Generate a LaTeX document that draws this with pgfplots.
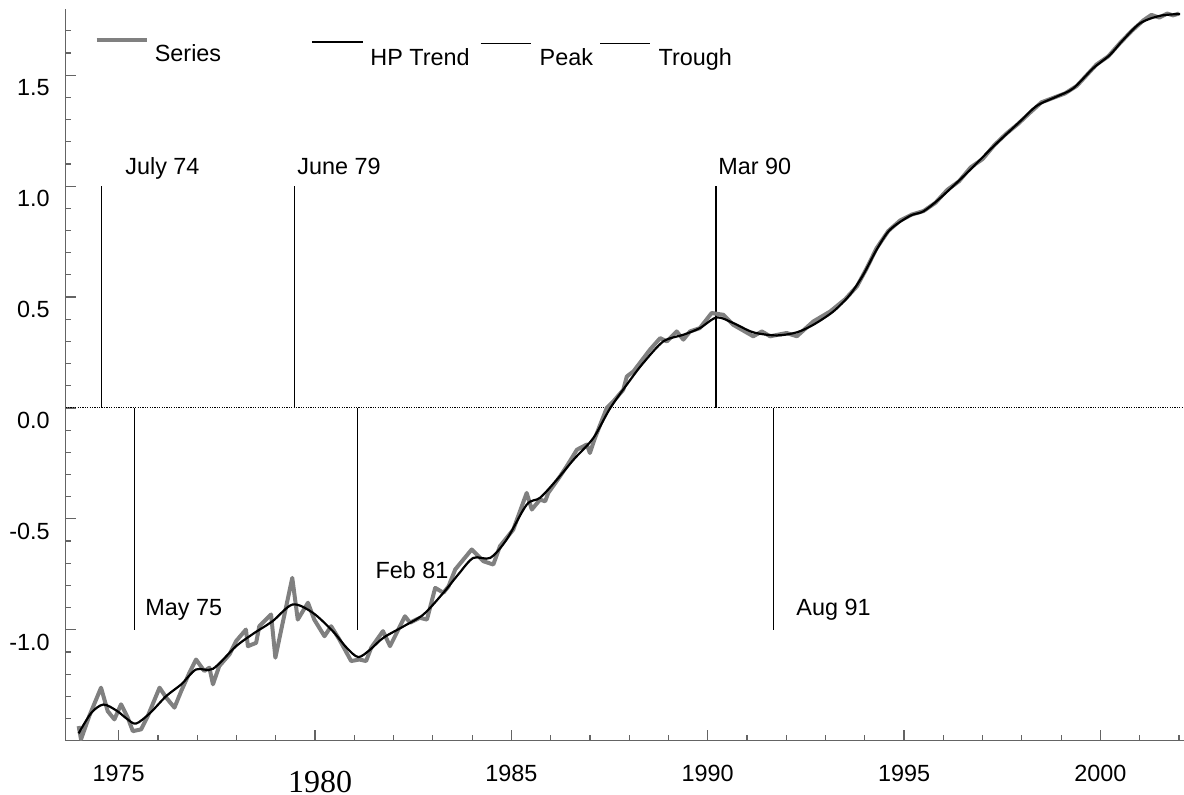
\documentclass[border=0pt]{standalone}
\usepackage{pgfplots}
\pgfplotsset{compat=1.18}
\usepackage{fontspec}
\setmainfont{Liberation Sans}
\newfontfamily\seriffont{Liberation Serif}
\definecolor{seriesgray}{RGB}{128,128,128}
\definecolor{axisgray}{RGB}{100,100,100}

\pgfplotstableread{
x y
1973.98 -1.434
1974.04 -1.494
1974.25 -1.389
1974.55 -1.261
1974.72 -1.367
1974.89 -1.404
1975.06 -1.336
1975.23 -1.396
1975.36 -1.457
1975.57 -1.449
1975.74 -1.389
1976.04 -1.261
1976.21 -1.306
1976.42 -1.351
1976.59 -1.277
1976.80 -1.194
1976.97 -1.134
1977.18 -1.186
1977.31 -1.171
1977.40 -1.246
1977.56 -1.164
1977.82 -1.111
1977.99 -1.051
1978.24 -0.999
1978.29 -1.074
1978.50 -1.059
1978.58 -0.984
1978.88 -0.931
1978.99 -1.126
1979.14 -0.999
1979.42 -0.766
1979.56 -0.954
1979.82 -0.878
1979.98 -0.954
1980.24 -1.029
1980.41 -0.984
1980.62 -1.044
1980.92 -1.141
1981.13 -1.134
1981.30 -1.141
1981.43 -1.081
1981.73 -1.006
1981.91 -1.074
1982.29 -0.939
1982.42 -0.968
1982.67 -0.946
1982.85 -0.954
1983.06 -0.811
1983.27 -0.833
1983.40 -0.804
1983.57 -0.728
1983.99 -0.638
1984.29 -0.691
1984.54 -0.706
1984.71 -0.623
1985.05 -0.548
1985.39 -0.383
1985.52 -0.458
1985.73 -0.413
1985.86 -0.421
1985.94 -0.383
1986.24 -0.308
1986.41 -0.263
1986.67 -0.188
1986.92 -0.165
1987.00 -0.203
1987.13 -0.135
1987.43 0.000
1987.60 0.030
1987.85 0.082
1987.94 0.142
1988.11 0.165
1988.53 0.263
1988.79 0.315
1988.96 0.300
1989.21 0.345
1989.38 0.308
1989.55 0.345
1989.80 0.360
1990.10 0.428
1990.40 0.420
1990.65 0.375
1991.16 0.323
1991.38 0.345
1991.59 0.323
1992.01 0.338
1992.27 0.323
1992.69 0.390
1993.12 0.435
1993.50 0.490
1993.80 0.548
1994.05 0.630
1994.30 0.720
1994.60 0.798
1994.90 0.845
1995.20 0.872
1995.50 0.888
1995.80 0.925
1996.10 0.983
1996.40 1.022
1996.70 1.085
1997.00 1.122
1997.30 1.185
1997.60 1.236
1997.90 1.280
1998.20 1.330
1998.50 1.378
1998.80 1.398
1999.10 1.418
1999.40 1.452
1999.65 1.500
1999.90 1.548
2000.20 1.585
2000.50 1.645
2000.80 1.700
2001.10 1.748
2001.30 1.772
2001.50 1.760
2001.70 1.778
2001.85 1.770
2002.00 1.778
}\seriesdata

\pgfplotstableread{
x y
1973.98 -1.467
1974.30 -1.375
1974.61 -1.337
1974.95 -1.365
1975.20 -1.400
1975.44 -1.423
1975.80 -1.375
1976.21 -1.299
1976.60 -1.245
1976.97 -1.179
1977.40 -1.176
1977.99 -1.074
1978.45 -1.015
1978.92 -0.961
1979.43 -0.886
1979.94 -0.923
1980.45 -1.006
1980.80 -1.080
1981.10 -1.123
1981.40 -1.090
1981.74 -1.036
1982.25 -0.985
1982.76 -0.931
1983.27 -0.833
1983.65 -0.750
1984.03 -0.676
1984.46 -0.676
1984.88 -0.593
1985.39 -0.436
1985.73 -0.405
1986.16 -0.323
1986.60 -0.230
1987.09 -0.135
1987.52 0.000
1988.03 0.127
1988.36 0.203
1988.87 0.300
1989.38 0.330
1989.80 0.360
1990.23 0.408
1990.65 0.383
1991.16 0.341
1991.76 0.327
1992.27 0.341
1992.69 0.375
1993.20 0.435
1993.62 0.510
1993.96 0.600
1994.30 0.713
1994.64 0.803
1995.15 0.866
1995.49 0.886
1995.92 0.946
1996.60 1.059
1997.27 1.178
1997.95 1.291
1998.38 1.362
1998.89 1.404
1999.31 1.441
1999.82 1.532
2000.24 1.591
2000.58 1.659
2001.01 1.734
2001.52 1.768
2002.03 1.776
}\trenddata

\begin{document}
\begin{tikzpicture}
\begin{axis}[
  scale only axis, width=559.15pt, height=366pt,
  xmin=1973.65, xmax=2002.13, ymin=-1.5, ymax=1.8,
  axis x line*=bottom, axis y line*=left,
  axis line style={draw=axisgray, line width=0.8pt, -},
  tick style={draw=axisgray, line width=0.6pt},
  tick align=inside,
  major tick length=5.3pt, minor tick length=2.8pt,
  xtick={1975,1980,1985,1990,1995,2000},
  xticklabels={1975,{\hspace*{5pt}\raisebox{-5.4pt}[0pt][0pt]{\seriffont\fontsize{16}{16}\selectfont 1980}},1985,1990,1995,2000},
  minor xtick={1974,1976,1977,1978,1979,1981,1982,1983,1984,1986,1987,1988,1989,1991,1992,1993,1994,1996,1997,1998,1999,2001,2002},
  ytick={-1,-0.5,0,0.5,1,1.5},
  yticklabels={-1.0,-0.5,0.0,0.5,1.0,1.5},
  minor ytick={-1.4,-1.3,-1.2,-1.1,-0.9,-0.8,-0.7,-0.6,-0.4,-0.3,-0.2,-0.1,0.1,0.2,0.3,0.4,0.6,0.7,0.8,0.9,1.1,1.2,1.3,1.4,1.6,1.7},
  tick label style={font=\fontsize{11.7}{14}\selectfont},
  xticklabel style={anchor=base, inner sep=0pt, yshift=-20.5pt},
  yticklabel style={anchor=east, inner sep=0pt, xshift=-7.85pt, yshift=-6.3pt},
  every axis plot/.append style={line join=round},
]
\coordinate (ll) at (rel axis cs:0,0);
\coordinate (ur) at (rel axis cs:1,1);
% zero line
\addplot[black, line width=0.5pt, dash pattern=on 0.6pt off 0.6pt] coordinates {(1973.65,0) (2002.13,0)};
% peaks
\addplot[black, line width=0.6pt] coordinates {(1974.57,0) (1974.57,1)};
\addplot[black, line width=0.6pt] coordinates {(1979.47,0) (1979.47,1)};
\addplot[black, line width=0.6pt] coordinates {(1990.21,0) (1990.21,1)};
% troughs
\addplot[black, line width=0.6pt] coordinates {(1975.40,0) (1975.40,-1)};
\addplot[black, line width=0.6pt] coordinates {(1981.08,0) (1981.08,-1)};
\addplot[black, line width=0.6pt] coordinates {(1991.68,0) (1991.68,-1)};
% series
\addplot[seriesgray, line width=2pt] table[x=x,y=y] {\seriesdata};
% trend
\addplot[black, line width=1.1pt, smooth] table[x=x,y=y] {\trenddata};

\begin{scope}[every node/.style={font=\fontsize{11.7}{14}\selectfont, inner sep=0pt, anchor=base west}]
\node at (axis cs:1975.16,1.051) {July 74};
\node at (axis cs:1979.54,1.051) {June 79};
\node at (axis cs:1990.26,1.051) {Mar 90};
\node at (axis cs:1975.67,-0.936) {May 75};
\node at (axis cs:1981.53,-0.771) {Feb 81};
\node at (axis cs:1992.25,-0.936) {Aug 91};
% legend
\draw[seriesgray, line width=2pt] (axis cs:1974.44,1.658) -- (axis cs:1975.72,1.658);
\node at (axis cs:1975.91,1.561) {Series};
\draw[black, line width=1.2pt] (axis cs:1979.92,1.649) -- (axis cs:1981.23,1.649);
\node at (axis cs:1981.40,1.546) {HP Trend};
\draw[black, line width=0.5pt] (axis cs:1984.22,1.644) -- (axis cs:1985.50,1.644);
\node at (axis cs:1985.71,1.546) {Peak};
\draw[black, line width=0.5pt] (axis cs:1987.26,1.644) -- (axis cs:1988.53,1.644);
\node at (axis cs:1988.74,1.546) {Trough};
\end{scope}
\end{axis}
\pgfresetboundingbox
\path[use as bounding box] ([xshift=-32.85pt,yshift=-27.15pt]ll) rectangle ([yshift=4.35pt]ur);
\end{tikzpicture}
\end{document}
